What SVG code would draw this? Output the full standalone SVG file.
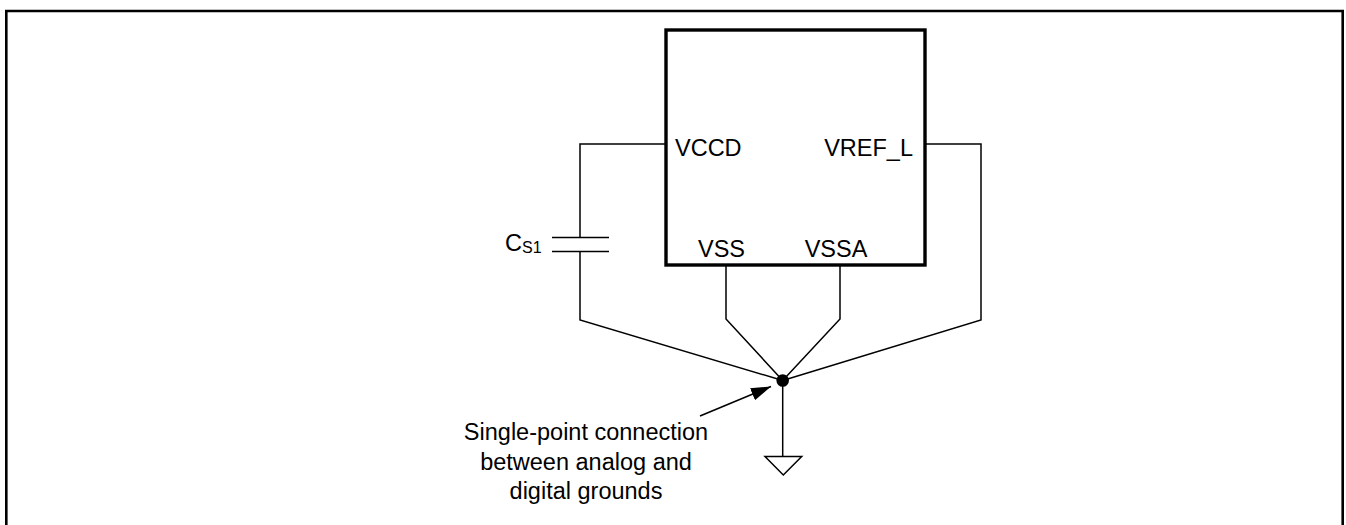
<svg xmlns="http://www.w3.org/2000/svg" width="1346" height="525" viewBox="0 0 1346 525">
<defs>
<style>
text{font-family:"Liberation Sans",Arial,sans-serif;font-size:23.5px;fill:#000}
.w{fill:none;stroke:#000;stroke-width:1.5}
</style>
<marker id="ah" markerWidth="20" markerHeight="13" refX="20" refY="6.5" orient="auto" markerUnits="userSpaceOnUse" viewBox="0 0 20 13">
<path d="M0,0 L20,6.5 L0,13 Z" fill="#000"/>
</marker>
</defs>
<rect width="1346" height="525" fill="#fff"/>
<path d="M6.3,530 V11 H1342.7 V530" fill="none" stroke="#000" stroke-width="2.6"/>
<g id="chip">
<rect x="666" y="30" width="259" height="235" fill="none" stroke="#000" stroke-width="3.4"/>
<text x="675" y="156">VCCD</text>
<text x="913" y="156" text-anchor="end">VREF_L</text>
<text x="721.5" y="257" text-anchor="middle">VSS</text>
<text x="836" y="257" text-anchor="middle">VSSA</text>
</g>
<g id="cs1">
<line x1="552" y1="237.5" x2="609" y2="237.5" stroke="#000" stroke-width="1.7"/>
<line x1="552" y1="251.5" x2="609" y2="251.5" stroke="#000" stroke-width="1.7"/>
<text x="505" y="251">C<tspan font-size="16" dy="2">S1</tspan></text>
</g>
<g id="node">
<circle cx="782.7" cy="380.5" r="6.3" fill="#000"/>
</g>
<g id="ground">
<path d="M765,456.5 H801.7 L783.3,475 Z" fill="none" stroke="#000" stroke-width="1.5"/>
</g>
<g id="note">
<text x="586" y="440" text-anchor="middle">Single-point connection</text>
<text x="586" y="470" text-anchor="middle">between analog and</text>
<text x="586" y="499" text-anchor="middle">digital grounds</text>
</g>
<g id="connectors">
<path class="w" d="M666,144 H580 V237.5"/>
<path class="w" d="M580,251.5 V320 L782.7,380.5"/>
<path class="w" d="M726,266 V319 L782.7,380.5"/>
<path class="w" d="M840,266 V319 L782.7,380.5"/>
<path class="w" d="M925,144 H981 V320 L782.7,380.5"/>
<path class="w" d="M782.7,380.5 V456.5"/>
<line class="w" x1="700" y1="416" x2="771" y2="386.5" marker-end="url(#ah)"/>
</g>
</svg>
